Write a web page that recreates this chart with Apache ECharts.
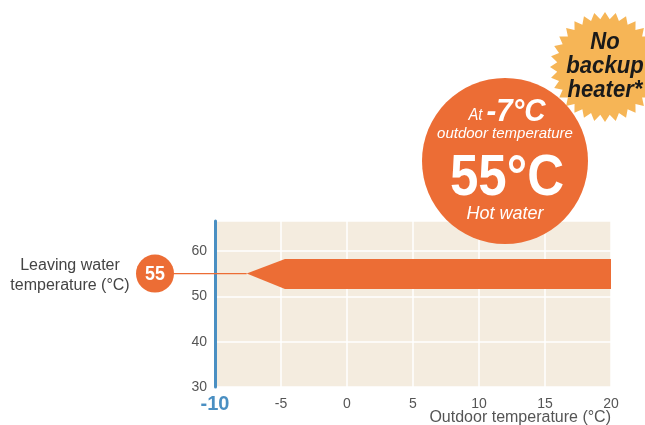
<!DOCTYPE html>
<html>
<head>
<meta charset="utf-8">
<script src="https://cdn.jsdelivr.net/npm/echarts@6/dist/echarts.min.js"></script>
<style>
html,body{margin:0;padding:0;background:#fff;}
#c{width:645px;height:425px;}
</style>
</head>
<body>
<div id="c"></div>
<script>
// ---- data ----
const xTicks = [-10, -5, 0, 5, 10, 15, 20];
const yTicks = [30, 40, 50, 60];
// operating band outline (outdoor temp, leaving water temp)
const bandX     = [-7.6, -4.7, 20];
const bandUpper = [55, 58.2, 58.2];
const bandLower = [55, 51.6, 51.6];
const setPoint = 55;
const xTitle = 'Outdoor temperature (°C)';
const yTitle = ['Leaving water', 'temperature (°C)'];

const ORANGE = '#ec6d35';
const FONT = 'Liberation Sans, Arial, sans-serif';

const chart = echarts.init(document.getElementById('c'), null, {renderer: 'canvas'});

// starburst polygon points (decoration)
function star(cx, cy, rOut, rIn, n) {
  const pts = [];
  for (let i = 0; i < n * 2; i++) {
    const r = i % 2 === 0 ? rOut : rIn;
    const a = Math.PI * i / n - Math.PI / 2;
    pts.push([cx + r * Math.cos(a), cy + r * Math.sin(a)]);
  }
  return pts;
}

const polyData = [];
for (let i = 0; i < bandX.length; i++) polyData.push([bandX[i], bandUpper[i]]);
for (let i = bandX.length - 1; i >= 0; i--) polyData.push([bandX[i], bandLower[i]]);

chart.setOption({
  animation: false,
  grid: {left: 215, right: 34, top: 221, bottom: 38, show: true, backgroundColor: '#f4ecdf', borderWidth: 0, containLabel: false, outerBoundsMode: 'none'},
  xAxis: {
    type: 'value', min: -10, max: 20, interval: 5,
    axisLine: {show: false}, axisTick: {show: false},
    splitLine: {show: true, lineStyle: {color: '#ffffff', width: 1.5}},
    axisLabel: {
      margin: 9, fontFamily: FONT, fontSize: 14, color: '#555', lineHeight: 16,
      formatter: v => v === -10 ? '{b|' + v + '}' : '' + v,
      rich: {b: {fontFamily: FONT, fontSize: 20, fontWeight: 'bold', color: '#4a8fc2', lineHeight: 16}}
    }
  },
  yAxis: {
    type: 'value', min: 30, max: 66.6, interval: 10,
    axisLine: {show: true, onZero: false, lineStyle: {color: '#4a8fc2', width: 3}},
    axisTick: {show: false},
    splitLine: {show: true, lineStyle: {color: '#ffffff', width: 1.5}},
    axisLabel: {
      margin: 8, fontFamily: FONT, fontSize: 14, color: '#555',
      formatter: v => (yTicks.indexOf(v) >= 0 ? '' + v : '')
    }
  },
  series: [{
    type: 'custom',
    clip: false,
    data: [0],
    renderItem: function (params, api) {
      const pts = polyData.map(p => api.coord(p));
      const tip = api.coord([bandX[0], setPoint]);
      const axisPt = api.coord([-10, setPoint]);
      const cx = axisPt[0] - 60, cy = axisPt[1];
      return {
        type: 'group',
        children: [
          {type: 'line', shape: {x1: cx, y1: cy, x2: tip[0], y2: tip[1]}, style: {stroke: ORANGE, lineWidth: 1.2}},
          {type: 'polygon', shape: {points: pts}, style: {fill: ORANGE}},
          {type: 'circle', shape: {cx: cx, cy: cy, r: 19}, style: {fill: ORANGE}},
          {type: 'text', x: cx, y: cy + 1, scaleX: 0.85, style: {text: String(setPoint), fill: '#fff', font: 'bold 21px ' + FONT, align: 'center', verticalAlign: 'middle'}},
          {type: 'text', x: cx - 85, y: cy + 2, style: {text: yTitle.join('\n'), fill: '#444', font: '16px ' + FONT, align: 'center', verticalAlign: 'middle', lineHeight: 20}}
        ]
      };
    }
  }],
  graphic: [
    {type: 'text', right: 34, top: 410, style: {text: xTitle, fill: '#555', font: '16px ' + FONT}},
    {type: 'polygon', shape: {points: star(605, 67, 55, 48, 32)}, style: {fill: '#f6b556'}, z: 10},
    {type: 'text', x: 605, y: 66, scaleX: 0.92, style: {text: 'No\nbackup\nheater*', fill: '#1a1a1a', font: 'italic bold 24px ' + FONT, align: 'center', verticalAlign: 'middle', lineHeight: 24}, z: 11},
    {type: 'circle', shape: {cx: 505, cy: 161, r: 83}, style: {fill: ORANGE}, z: 12},
    {type: 'text', x: 507, y: 112, scaleX: 0.92, style: {
      text: '{a|At }{b|-7°C}', align: 'center', verticalAlign: 'middle',
      rich: {a: {fill: '#fff', font: 'italic 16px ' + FONT, padding: [8, 0, 0, 0]}, b: {fill: '#fff', font: 'italic bold 32px ' + FONT}}
    }, z: 13},
    {type: 'text', x: 505, y: 134, style: {text: 'outdoor temperature', fill: '#fff', font: 'italic 15px ' + FONT, align: 'center', verticalAlign: 'middle'}, z: 13},
    {type: 'text', x: 507, y: 179, scaleX: 0.88, style: {text: '55°C', fill: '#fff', font: 'bold 58px ' + FONT, align: 'center', verticalAlign: 'middle'}, z: 13},
    {type: 'text', x: 505, y: 214, style: {text: 'Hot water', fill: '#fff', font: 'italic 18px ' + FONT, align: 'center', verticalAlign: 'middle'}, z: 13}
  ]
});
</script>
</body>
</html>
